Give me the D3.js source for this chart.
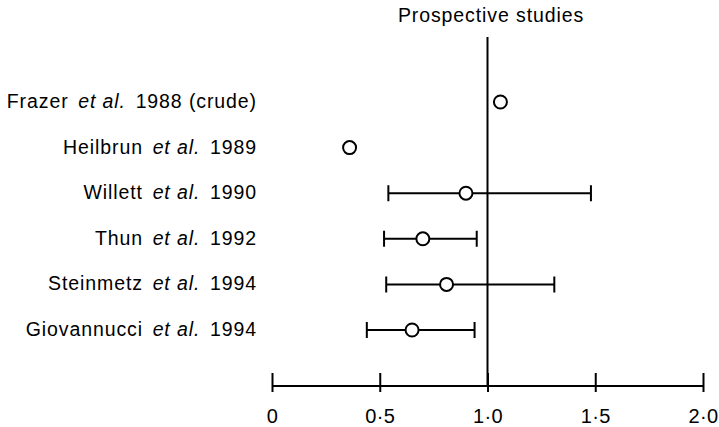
<!DOCTYPE html>
<html>
<head>
<meta charset="utf-8">
<script src="https://cdn.jsdelivr.net/npm/d3@7"></script>
<style>
  body { margin: 0; background: #fff; }
  svg { display: block; font-family: "Liberation Sans", Arial, sans-serif; }
</style>
</head>
<body>
<svg width="719" height="427"></svg>
<script>
const width = 719, height = 427;

// study data
const authors = ["Frazer", "Heilbrun", "Willett", "Thun", "Steinmetz", "Giovannucci"];
const years = ["1988 (crude)", "1989", "1990", "1992", "1994", "1994"];
const estimates = [1.06, 0.36, 0.90, 0.70, 0.81, 0.65];
const lower = [null, null, 0.54, 0.52, 0.53, 0.44];
const upper = [null, null, 1.48, 0.95, 1.31, 0.94];
const tickValues = [0, 0.5, 1.0, 1.5, 2.0];
const tickLabels = ["0", "0·5", "1·0", "1·5", "2·0"];

const svg = d3.select("svg");

const x = d3.scaleLinear().domain([0, 2]).range([272, 703]);
const y = d3.scalePoint().domain(authors).range([102, 330]);
const axisY = 386;

// title
svg.append("text")
  .attr("x", 491)
  .attr("y", 22)
  .attr("text-anchor", "middle")
  .attr("font-size", "19.5px")
  .attr("letter-spacing", "0.9px")
  .text("Prospective studies");

// line of no effect
svg.append("line")
  .attr("x1", x(1)).attr("x2", x(1))
  .attr("y1", 37).attr("y2", axisY)
  .attr("stroke", "#000").attr("stroke-width", 2);

// x axis
const xAxis = d3.axisBottom(x)
  .tickValues(tickValues)
  .tickFormat((d, i) => tickLabels[i])
  .tickSize(0)
  .tickPadding(23);

const gx = svg.append("g")
  .attr("transform", `translate(0,${axisY})`)
  .call(xAxis);
gx.select(".domain").remove();
gx.selectAll("text")
  .attr("font-size", "20px")
  .attr("letter-spacing", "0.3px")
  .attr("font-family", "Liberation Sans, Arial, sans-serif")
  .attr("fill", "#000");

gx.append("line")
  .attr("x1", x(0)).attr("x2", x(2))
  .attr("stroke", "#000").attr("stroke-width", 2);
gx.selectAll(".tick").append("line")
  .attr("y1", -13).attr("y2", 6)
  .attr("stroke", "#000").attr("stroke-width", 2);

// study labels
const labels = svg.append("g").selectAll("text")
  .data(authors)
  .join("text")
  .attr("x", 257)
  .attr("y", d => y(d) + 6)
  .attr("text-anchor", "end")
  .attr("font-size", "19.5px")
  .attr("letter-spacing", "0.9px");
labels.append("tspan").text(d => d);
labels.append("tspan").attr("dx", 9.7).attr("font-style", "italic").text("et al.");
labels.append("tspan").attr("dx", 9.7).text((d, i) => years[i]);

// confidence intervals
const rows = authors.map((a, i) => ({a, est: estimates[i], lo: lower[i], hi: upper[i]}));
const ci = rows.filter(d => d.lo != null);

svg.append("g").selectAll("line")
  .data(ci)
  .join("line")
  .attr("x1", d => x(d.lo)).attr("x2", d => x(d.hi))
  .attr("y1", d => y(d.a)).attr("y2", d => y(d.a))
  .attr("stroke", "#000").attr("stroke-width", 2);

svg.append("g").selectAll("path")
  .data(ci)
  .join("path")
  .attr("d", d => `M${x(d.lo)},${y(d.a) - 8}V${y(d.a) + 8}M${x(d.hi)},${y(d.a) - 8}V${y(d.a) + 8}`)
  .attr("stroke", "#000").attr("stroke-width", 2);

// point estimates
svg.append("g").selectAll("circle")
  .data(rows)
  .join("circle")
  .attr("cx", d => x(d.est))
  .attr("cy", d => y(d.a))
  .attr("r", 6.5)
  .attr("fill", "#fff")
  .attr("stroke", "#000")
  .attr("stroke-width", 2);
</script>
</body>
</html>
